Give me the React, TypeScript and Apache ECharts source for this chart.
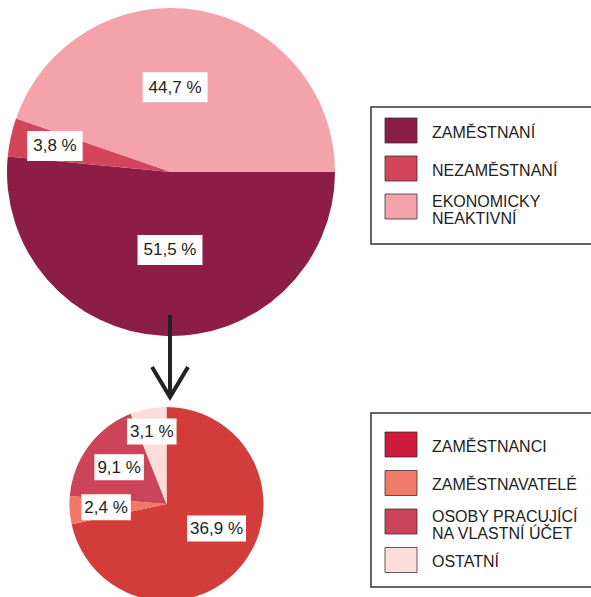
import React, { useEffect, useRef } from "react";
import * as echarts from "echarts";

const topCategories = ["ZAMĚSTNANÍ", "NEZAMĚSTNANÍ", "EKONOMICKY NEAKTIVNÍ"];
const topLegendLabels = ["ZAMĚSTNANÍ", "NEZAMĚSTNANÍ", "EKONOMICKY\nNEAKTIVNÍ"];
const topValues = [51.5, 3.8, 44.7];
const topColors = ["#8C1D47", "#D2455A", "#F5A3AA"];

const bottomCategories = ["ZAMĚSTNANCI", "ZAMĚSTNAVATELÉ", "OSOBY PRACUJÍCÍ NA VLASTNÍ ÚČET", "OSTATNÍ"];
const bottomLegendLabels = ["ZAMĚSTNANCI", "ZAMĚSTNAVATELÉ", "OSOBY PRACUJÍCÍ\nNA VLASTNÍ ÚČET", "OSTATNÍ"];
const bottomValues = [36.9, 2.4, 9.1, 3.1];
const bottomColors = ["#D23C3A", "#F07864", "#CC445A", "#FCDDDA"];
const bottomLegendColors = ["#D01A3C", "#F27A68", "#CC4459", "#FDDEDC"];

// label nudges (style only)
const topLabelOffsets = [[3, -7], [-33, -8], [-10, -1]];
const bottomLabelOffsets = [[10, -8], [-9, 0], [-6, -6], [-5, -22]];

const FONT = "'Liberation Sans', Arial, Helvetica, sans-serif";

const fmt = (p: any) => `${String(p.value).replace(".", ",")} %`;

function legendGraphics(
  labels: string[],
  colors: string[],
  boxTop: number,
  boxBottom: number,
  firstOffset: number,
  step: number
) {
  const els: any[] = [];
  els.push({
    type: "rect",
    z: 100,
    shape: { x: 371, y: boxTop, width: 240, height: boxBottom - boxTop },
    style: { fill: "#fff", stroke: "#333", lineWidth: 1.5 },
  });
  labels.forEach((lab, i) => {
    const sy = boxTop + firstOffset + i * step;
    els.push({
      type: "rect",
      z: 101,
      shape: { x: 385, y: sy, width: 32, height: 25 },
      style: { fill: colors[i], stroke: "rgba(50,40,40,0.75)", lineWidth: 1 },
    });
    const multi = lab.includes("\n");
    els.push({
      type: "text",
      z: 101,
      x: 432,
      y: sy + 12.5 + (multi ? 3 : 1.5),
      style: {
        text: lab,
        fill: "#222",
        font: `16px ${FONT}`,
        lineHeight: 17,
        align: "left",
        verticalAlign: "middle",
      },
    });
  });
  return els;
}

export default function App() {
  const ref = useRef<HTMLDivElement>(null);
  useEffect(() => {
    if (!ref.current) return;
    const chart = echarts.init(ref.current, null, { renderer: "svg" });
    const labelBase = {
      show: true,
      position: "inside",
      formatter: fmt,
      backgroundColor: "#fff",
      color: "#222",
      fontFamily: FONT,
      fontSize: 17,
    };
    const option: any = {
      animation: false,
      series: [
        {
          type: "pie",
          center: [171, 172],
          radius: 164,
          startAngle: 0,
          clockwise: true,
          silent: true,
          emphasis: { disabled: true },
          data: topCategories.map((n, i) => ({ name: n, value: topValues[i], itemStyle: { color: topColors[i] } })),
          label: { ...labelBase, padding: [7, 6, 6, 6] },
          labelLine: { show: false },
          labelLayout: (p: any) => ({ dx: topLabelOffsets[p.dataIndex][0], dy: topLabelOffsets[p.dataIndex][1] }),
        },
        {
          type: "pie",
          center: [166.5, 504],
          radius: 97,
          startAngle: 90,
          clockwise: true,
          silent: true,
          emphasis: { disabled: true },
          data: bottomCategories.map((n, i) => ({ name: n, value: bottomValues[i], itemStyle: { color: bottomColors[i] } })),
          label: { ...labelBase, padding: [5, 3, 4, 3] },
          labelLine: { show: false },
          labelLayout: (p: any) => ({ dx: bottomLabelOffsets[p.dataIndex][0], dy: bottomLabelOffsets[p.dataIndex][1] }),
        },
      ],
      graphic: [
        {
          type: "line",
          z: 100,
          shape: { x1: 170, y1: 315, x2: 170, y2: 396 },
          style: { stroke: "#222", lineWidth: 4 },
        },
        {
          type: "polyline",
          z: 100,
          shape: { points: [[152, 367], [170, 397], [188, 367]] },
          style: { stroke: "#222", lineWidth: 4, fill: "none" },
        },
        ...legendGraphics(topLegendLabels, topColors, 107, 244, 11, 38),
        ...legendGraphics(bottomLegendLabels, bottomLegendColors, 413, 587, 19, 38.5),
      ],
    };
    chart.setOption(option);
    return () => chart.dispose();
  }, []);
  return (
    <div
      ref={ref}
      style={{ position: "fixed", left: 0, top: 0, width: 591, height: 597, background: "#fff" }}
    />
  );
}
